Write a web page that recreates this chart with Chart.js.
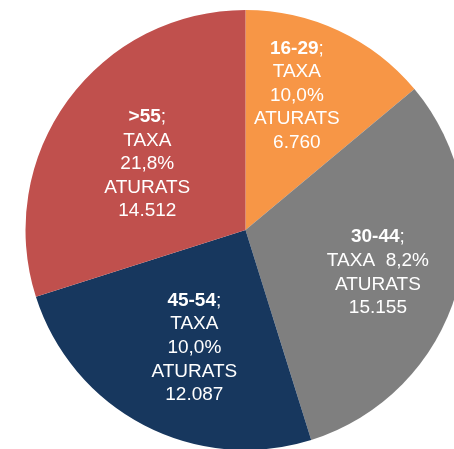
<!DOCTYPE html>
<html><head><meta charset="utf-8">
<script src="https://cdn.jsdelivr.net/npm/chart.js@4/dist/chart.umd.min.js"></script>
<style>
html,body{margin:0;padding:0;background:#fff;overflow:hidden;width:454px;height:449px}
#wrap{position:absolute;left:25px;top:10px;width:441px;height:440px}
</style>
</head><body>
<div id="wrap"><canvas id="c" width="441" height="440"></canvas></div>
<script>
const categories = ['16-29', '30-44', '45-54', '>55'];
const unemployed = [6760, 15155, 12087, 14512];
const rateLabels = ['10,0%', '8,2%', '10,0%', '21,8%'];
const countLabels = ['6.760', '15.155', '12.087', '14.512'];
const colors = ['#F79646', '#7F7F7F', '#17375E', '#C0504D'];

// label placement (radius fraction, angle shift in degrees) per slice
const labelLayout = [
  { ratio: 0.661, shift: -4.4, rateOnTaxaLine: false },
  { ratio: 0.630, shift: 0.8, rateOnTaxaLine: true },
  { ratio: 0.577, shift: -3.7, rateOnTaxaLine: false },
  { ratio: 0.542, shift: -1.6, rateOnTaxaLine: false }
];

const FONT_SIZE = 19;
const LINE_H = 23.6;
const FAMILY = '"Liberation Sans", Arial, sans-serif';

const labelPlugin = {
  id: 'sliceLabels',
  afterDatasetsDraw(chart) {
    const ctx = chart.ctx;
    const meta = chart.getDatasetMeta(0);
    meta.data.forEach((arc, i) => {
      const lay = labelLayout[i];
      const mid = (arc.startAngle + arc.endAngle) / 2 + lay.shift * Math.PI / 180;
      const r = arc.outerRadius * lay.ratio;
      const cx = arc.x + Math.cos(mid) * r;
      const cy = arc.y + Math.sin(mid) * r;
      const lines = [];
      lines.push([{ t: categories[i], b: true }, { t: ';', b: false }]);
      if (lay.rateOnTaxaLine) {
        lines.push([{ t: 'TAXA  ' + rateLabels[i], b: false }]);
      } else {
        lines.push([{ t: 'TAXA', b: false }]);
        lines.push([{ t: rateLabels[i], b: false }]);
      }
      lines.push([{ t: 'ATURATS', b: false }]);
      lines.push([{ t: countLabels[i], b: false }]);
      const n = lines.length;
      ctx.save();
      ctx.fillStyle = '#FFFFFF';
      ctx.textBaseline = 'alphabetic';
      ctx.textAlign = 'left';
      lines.forEach((parts, li) => {
        const yc = cy + (li - (n - 1) / 2) * LINE_H;
        const base = yc + FONT_SIZE * 0.358;
        let w = 0;
        parts.forEach(p => {
          ctx.font = (p.b ? 'bold ' : '') + FONT_SIZE + 'px ' + FAMILY;
          p.w = ctx.measureText(p.t).width;
          w += p.w;
        });
        let x = cx - w / 2;
        parts.forEach(p => {
          ctx.font = (p.b ? 'bold ' : '') + FONT_SIZE + 'px ' + FAMILY;
          ctx.fillText(p.t, x, base);
          x += p.w;
        });
      });
      ctx.restore();
    });
  }
};

new Chart(document.getElementById('c'), {
  type: 'pie',
  data: {
    labels: categories,
    datasets: [{
      data: unemployed,
      backgroundColor: colors,
      borderWidth: 0,
      hoverOffset: 0
    }]
  },
  options: {
    responsive: false,
    animation: false,
    layout: { padding: 0 },
    plugins: {
      legend: { display: false },
      tooltip: { enabled: false }
    }
  },
  plugins: [labelPlugin]
});
</script>
</body></html>
